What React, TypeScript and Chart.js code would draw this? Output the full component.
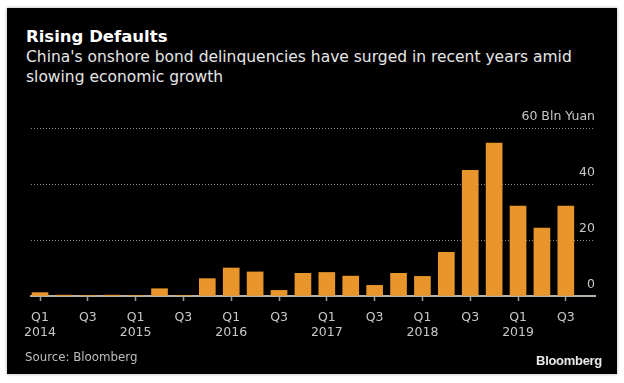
import React, { useEffect, useRef } from "react";
import { Chart, registerables } from "chart.js";

Chart.register(...registerables);

const quarters = [
  "Q1 2014", "Q2 2014", "Q3 2014", "Q4 2014",
  "Q1 2015", "Q2 2015", "Q3 2015", "Q4 2015",
  "Q1 2016", "Q2 2016", "Q3 2016", "Q4 2016",
  "Q1 2017", "Q2 2017", "Q3 2017", "Q4 2017",
  "Q1 2018", "Q2 2018", "Q3 2018", "Q4 2018",
  "Q1 2019", "Q2 2019", "Q3 2019",
];
const defaultsBln = [
  1.2, 0.3, 0.2, 0.3,
  0.2, 2.6, 0.2, 6.2,
  10.0, 8.6, 2.0, 8.1,
  8.4, 7.1, 3.8, 8.1,
  7.0, 15.6, 44.9, 54.6,
  32.1, 24.3, 32.1,
];
const yTicks = [0, 20, 40, 60];
const yUnit = "Bln Yuan";

const FONT = "'DejaVu Sans', sans-serif";
const BAR = "#E8952C";

export default function App() {
  const ref = useRef<HTMLCanvasElement | null>(null);

  useEffect(() => {
    document.body.style.margin = "0";
    const canvas = ref.current;
    if (!canvas) return;
    const chart = new Chart(canvas, {
      type: "bar",
      data: {
        datasets: [
          {
            data: defaultsBln.map((v, i) => ({ x: i, y: v })),
            backgroundColor: BAR,
            borderWidth: 0,
            barThickness: 16,
          },
        ],
      },
      options: {
        responsive: false,
        animation: false,
        devicePixelRatio: 1,
        layout: { padding: { left: 31, right: 29, top: 128, bottom: 0 } },
        plugins: { legend: { display: false }, tooltip: { enabled: false }, title: { display: false } },
        scales: {
          x: {
            type: "linear",
            offset: false,
            min: -0.377,
            max: 23.22,
            afterFit: (s: any) => { s.height = 87; },
            ticks: {
              stepSize: 2,
              includeBounds: false,
              autoSkip: false,
              maxRotation: 0,
              padding: 9,
              color: "#c8c8c8",
              font: { family: FONT, size: 12.5, lineHeight: 1.2 },
              callback: (v: any) => {
                const q = quarters[Number(v)];
                if (!q) return "";
                const [qq, yy] = q.split(" ");
                return qq === "Q1" ? [qq, yy] : [qq];
              },
            },
            grid: { display: true, offset: false, drawOnChartArea: false, drawTicks: true, tickLength: 5, tickColor: "#9a9a9a", tickWidth: 1.5 },
            border: { display: true, color: "#b9b1a6", width: 2 },
          },
          y: {
            position: "right",
            min: 0,
            max: 60,
            afterBuildTicks: (s: any) => { s.ticks = yTicks.map((v) => ({ value: v })); },
            ticks: {
              mirror: true,
              padding: 0,
              labelOffset: -11,
              color: "#c8c8c8",
              font: { family: FONT, size: 12.5 },
              callback: (v: any) => (Number(v) === 60 ? `${v} ${yUnit}` : `${v}`),
            },
            grid: {
              drawTicks: false,
              lineWidth: 1,
              color: (ctx: any) => (ctx.tick && ctx.tick.value === 0 ? "rgba(0,0,0,0)" : "#8a8a8a"),
            },
            border: { display: false, dash: [1, 2] },
          },
        },
      },
    });
    return () => chart.destroy();
  }, []);

  return (
    <div style={{ position: "relative", width: 624, height: 383, background: "#ffffff", overflow: "hidden" }}>
      <div style={{ position: "absolute", left: 7, top: 8, width: 610, height: 366, background: "#000", boxShadow: "0 0 3px rgba(0,0,0,0.35)" }} />
      <div style={{ position: "absolute", left: 26, top: 27, color: "#fff", fontFamily: FONT, fontWeight: "bold", fontSize: 16.5, lineHeight: "20px", whiteSpace: "nowrap" }}>
        Rising Defaults
      </div>
      <div style={{ position: "absolute", left: 26, top: 47, color: "#e6e6e6", fontFamily: FONT, fontSize: 15.5, lineHeight: "20px", width: 590, whiteSpace: "nowrap" }}>
        China's onshore bond delinquencies have surged in recent years amid
        <br />
        slowing economic growth
      </div>
      <canvas ref={ref} width={624} height={383} style={{ position: "absolute", left: 0, top: 0, width: 624, height: 383 }} />
      <div style={{ position: "absolute", left: 25, top: 349, color: "#bdbdbd", fontFamily: FONT, fontSize: 11.8, lineHeight: "16px", whiteSpace: "nowrap" }}>
        Source: Bloomberg
      </div>
      <div style={{ position: "absolute", right: 22, top: 353, color: "#e8e8e8", fontFamily: "'Liberation Sans', Arial, sans-serif", fontWeight: "bold", fontSize: 13, lineHeight: "16px", letterSpacing: -0.3, whiteSpace: "nowrap" }}>
        Bloomberg
      </div>
    </div>
  );
}
